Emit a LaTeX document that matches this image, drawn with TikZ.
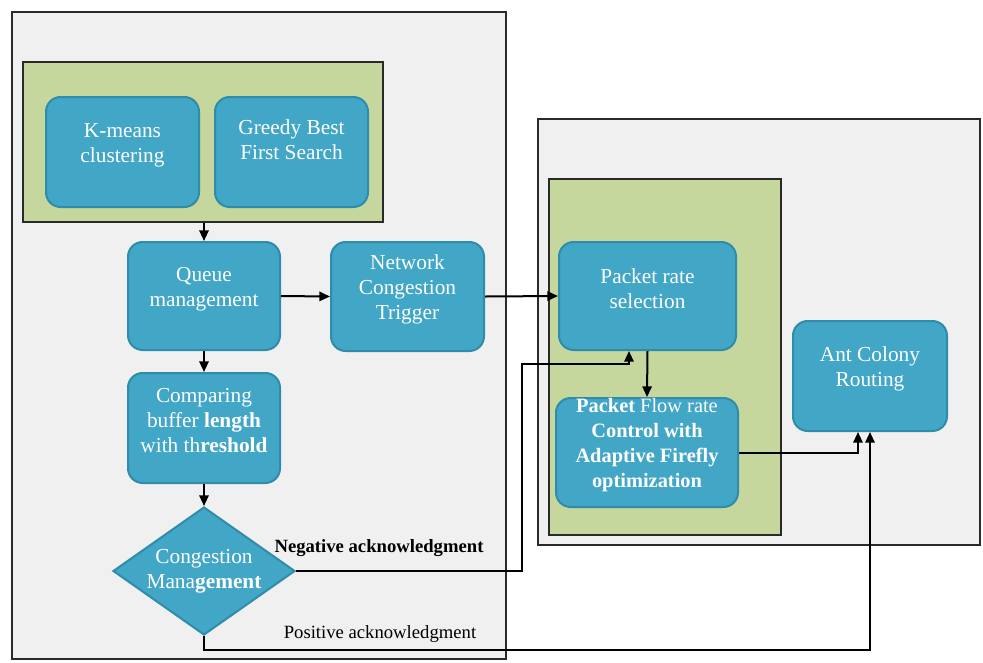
\documentclass[tikz,border=0pt]{standalone}
\usepackage{fontspec}
\setmainfont{Liberation Serif}
\usetikzlibrary{shapes.geometric,fit,calc,arrows.meta}
\definecolor{boxblue}{HTML}{42A6C6}
\definecolor{boxedge}{HTML}{2F8CAB}
\definecolor{panelgreen}{HTML}{C5D79C}
\definecolor{panelgray}{HTML}{F0F0F0}
\definecolor{paneledge}{HTML}{2A2A2A}
\tikzset{
  bluebox/.style={draw=boxedge, line width=1.5pt, fill=boxblue, rounded corners=11pt,
    inner sep=0pt, text=white, align=center, font=\fontsize{16}{18.7}\selectfont},
  txt/.style={text=white, align=center, font=\fontsize{16}{18.7}\selectfont},
  graypanel/.style={draw=paneledge, line width=1.5pt, fill=panelgray, inner sep=0pt},
  greenpanel/.style={draw=paneledge, line width=1.5pt, fill=panelgreen, inner sep=0pt},
  conn/.style={draw=black, line width=1.5pt, -{Triangle[length=8pt,width=7pt]}},
  lbl/.style={font=\fontsize{14}{16}\selectfont, text=black}
}
\begin{document}
\begin{tikzpicture}[x=0.75pt,y=-0.75pt]
\useasboundingbox (0,0) rectangle (983,662);
\fill[white] (0,0) rectangle (983,662);
% panels
\node[graypanel, fit={(12,12) (506,659)}] (leftpanel) {};
\node[graypanel, fit={(538,119) (980,545)}] (rightpanel) {};
\node[greenpanel, fit={(23,62) (383,222)}] (greenA) {};
\node[greenpanel, fit={(549,179) (781,535)}] (greenB) {};
% boxes
\node[bluebox, fit={(46,97) (199,207)}] (km) {K-means\\clustering};
\node[bluebox, fit={(215,97) (368,207)}] (gb) {};
\node[txt] at ($(gb.center)+(0,-12)$) {Greedy Best\\First Search};
\node[bluebox, fit={(128,242) (280,350)}] (qm) {Queue\\management};
\node[bluebox, fit={(331,242) (484,351)}] (nct) {Network\\Congestion\\Trigger};
\node[bluebox, fit={(128,373) (280,483)}] (cmp) {Comparing\\buffer \textbf{length}\\with th\textbf{reshold}};
\node[diamond, draw=boxedge, line width=1.5pt, fill=boxblue, minimum width=136.5pt,
  minimum height=96pt, inner sep=0pt, aspect=1] (cm) at (204,571) {};
\node[txt] at (cm.center) {Congestion\\Mana\textbf{gement}};
\node[bluebox, fit={(559,242) (736,350)}] (prs) {Packet rate\\selection};
\node[bluebox, fit={(556,398) (738,507)}, font=\fontsize{15.3}{18.7}\selectfont] (pfr) {\textbf{Packet} Flow rate\\\textbf{Control with}\\\textbf{Adaptive Firefly}\\\textbf{optimization}};
\node[bluebox, fit={(793,321) (947,431)}] (acr) {Ant Colony\\Routing};
% connectors
\draw[conn] (qm.north |- greenA.south) -- (qm.north);
\draw[conn] (qm.east) -- (nct.west);
\draw[conn] (qm.south) -- (cmp.north);
\draw[conn] (cmp.south) -- (cm.north);
\draw[conn] (nct.east) -- (prs.west);
\draw[conn] (prs.south) -- (pfr.north);
\coordinate (n1) at (522,364);
\draw[conn] (cm.east) -| (n1) -| ($(prs.south)+(-18.5,0)$);
\draw[conn] (pfr.east) -| ($(acr.south)+(-12,0)$);
\coordinate (p1) at (870,650);
\draw[conn] (cm.south) |- (p1) -- (acr.south);
% labels
\node[lbl, font=\fontsize{14}{16}\selectfont\bfseries] (neg) at (379,548) {Negative acknowledgment};
\node[lbl] (pos) at (380,634) {Positive acknowledgment};
\end{tikzpicture}
\end{document}
